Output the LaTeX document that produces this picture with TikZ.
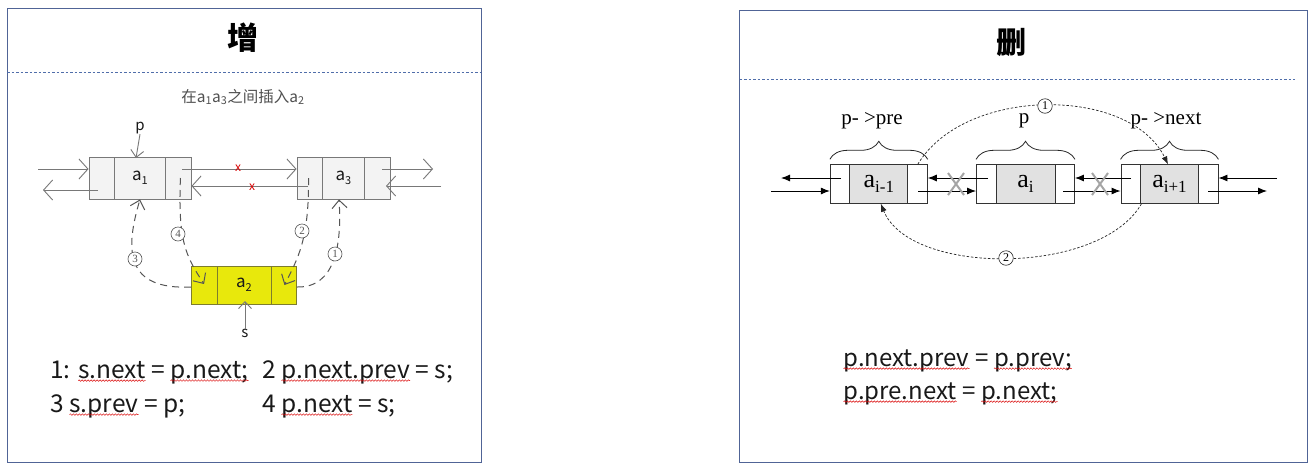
\documentclass[tikz,border=0pt]{standalone}
\usepackage{fontspec}
\setmainfont{Liberation Serif}
\newfontfamily\cjk{Noto Sans CJK SC}
\usetikzlibrary{arrows.meta,decorations.pathreplacing,decorations.pathmorphing,calc}
\definecolor{framec}{RGB}{80,100,150}
\definecolor{sepc}{RGB}{80,110,170}
\definecolor{lgray}{RGB}{120,120,120}
\definecolor{lfill}{RGB}{243,243,243}
\definecolor{yfill}{RGB}{232,232,12}
\definecolor{yline}{RGB}{125,125,45}
\definecolor{dgray}{RGB}{85,85,85}
\definecolor{rcell}{RGB}{225,225,225}
\definecolor{xgray}{RGB}{165,165,165}
\definecolor{txt}{RGB}{25,25,25}
\definecolor{subc}{RGB}{80,80,80}
\newcommand\rwave[1]{\tikz[baseline=(W.base)]{\node[inner sep=0,outer sep=0,anchor=base](W) at (0,0){#1};
  \draw[red!85!black,line width=0.45pt,decorate,decoration={snake,amplitude=0.8pt,segment length=3pt}]
  ([yshift=-2.6pt]W.base west) -- ([yshift=-2.6pt]W.base east);}}
\newcommand\lsub[1]{\raisebox{-0.22em}{\fontsize{11}{11}\selectfont #1}}
\newcommand\rsub[1]{\raisebox{-0.2em}{\fontsize{17}{17}\selectfont #1}}
\tikzset{
  frame/.style={draw=framec, line width=1pt},
  sepline/.style={draw=sepc, line width=0.8pt, dash pattern=on 2.5pt off 2pt},
  ldiv/.style={path picture={\draw[line width=0.9pt,draw=#1]
     ([xshift=25.5pt]path picture bounding box.north west) -- ([xshift=25.5pt]path picture bounding box.south west)
     ([xshift=-25.5pt]path picture bounding box.north east) -- ([xshift=-25.5pt]path picture bounding box.south east);}},
  lelem/.style={draw=lgray, line width=0.9pt, fill=lfill, minimum height=42, inner sep=0, ldiv=lgray,
     font=\cjk\fontsize{17}{17}\selectfont, text=txt},
  yelem/.style={draw=yline, line width=0.9pt, fill=yfill, minimum height=38, inner sep=0, ldiv=yline,
     font=\cjk\fontsize{17}{17}\selectfont, text=txt},
  oarr/.style={draw=lgray, line width=0.9pt, -{Straight Barb[length=9pt,width=20pt,line width=0.9pt]}},
  oarrs/.style={draw=lgray, line width=0.9pt, -{Straight Barb[length=7pt,width=13pt,line width=0.9pt]}},
  ldash/.style={draw=dgray, line width=1pt, dash pattern=on 7pt off 5pt, -{Straight Barb[length=8pt,width=15pt,line width=1pt]}},
  cnum/.style={circle, draw=dgray, line width=0.6pt, fill=white, inner sep=0, minimum size=14pt,
     font=\fontsize{11}{11}\selectfont, text=dgray},
  lbl/.style={inner sep=0, font=\cjk\fontsize{15}{15}\selectfont, text=txt},
  redx/.style={inner sep=0, font=\cjk\fontsize{12}{12}\selectfont, text=red!85!black},
  code/.style={anchor=base west, inner sep=0, text=txt},
  rdiv/.style={path picture={
     \fill[rcell] ([xshift=19.5pt]path picture bounding box.north west) rectangle ([xshift=-19.5pt]path picture bounding box.south east);
     \draw[line width=0.9pt,black!80]
     ([xshift=19.5pt]path picture bounding box.north west) -- ([xshift=19.5pt]path picture bounding box.south west)
     ([xshift=-19.5pt]path picture bounding box.north east) -- ([xshift=-19.5pt]path picture bounding box.south east);}},
  relem/.style={draw=black!80, line width=0.9pt, fill=white, minimum height=38.5, inner sep=0, rdiv,
     font=\fontsize{26}{26}\selectfont},
  farr/.style={draw=black, line width=0.9pt, -{Latex[length=9pt,width=7pt]}},
  rdash/.style={draw=black!85, line width=0.7pt, dash pattern=on 2.5pt off 1.8pt, -{Latex[length=8pt,width=6pt]}},
  brc/.style={draw=black!85, line width=0.8pt, decorate, decoration={brace, amplitude=18pt}},
  xmark/.style={draw=xgray, line width=2pt},
  rlbl/.style={inner sep=0, font=\fontsize{21}{21}\selectfont},
}
\begin{document}
\begin{tikzpicture}[x=1pt,y=-1pt]
\useasboundingbox (0,0) rectangle (1312,469);
\fill[white] (0,0) rectangle (1312,469);
% ---------- left panel ----------
\draw[frame] (7,8.5) rectangle (481,462.5);
\draw[sepline] (7,72) -- (481,72);
\node[font=\cjk\bfseries\fontsize{31}{31}\selectfont] (tadd) at (242.5,38) {增};
\node[font=\cjk\fontsize{15.5}{15.5}\selectfont, text=subc] (sub) at (243,97) {在a\textsubscript{1}a\textsubscript{3}之间插入a\textsubscript{2}};

\node[lelem, minimum width=102] (a1) at (140,178) {a\lsub{1}};
\node[lelem, minimum width=93] (a3) at (343.5,178) {a\lsub{3}};
\node[yelem, minimum width=105] (a2) at (244,285) {a\lsub{2}};

\coordinate (la) at (38,169);
\draw[oarr] (la) -- (la -| a1.west);
\coordinate (lb) at (98,190); \coordinate (lbe) at (43,190);
\draw[oarr] (lb) -- (lbe);
\coordinate (lc) at (182,169);
\draw[oarr] (lc) -- (lc -| a3.west);
\coordinate (ld) at (308,186);
\draw[oarr] (ld) -- (ld -| a1.east);
\coordinate (le) at (382,169); \coordinate (lee) at (433,169);
\draw[oarr] (le) -- (lee);
\coordinate (lf) at (441,186); \coordinate (lfe) at (386,186);
\draw[oarr] (lf) -- (lfe);

\node[redx] (x1) at (238,168) {x};
\node[redx] (x2) at (252,187) {x};

\node[lbl] (p) at (140,128) {p};
\coordinate (pt) at (136,158);
\draw[oarrs] (p.south) -- (pt);
\node[lbl] (s) at (245,333) {s};
\coordinate (st) at (245,301);
\draw[oarrs] (s.north) -- (st);

% dashed insertion steps
\draw[ldash] ([yshift=-2pt]a2.west) .. controls (125,290) and (125,250) .. (a1.south);
\draw[ldash] ([xshift=-11pt]a1.east) .. controls (178,240) and (185,255) .. ([xshift=13pt,yshift=1pt]a2.west);
\draw[ldash] ([xshift=12pt]a3.west) .. controls (309,240) and (298,258) .. ([xshift=-12.5pt]a2.east);
\draw[ldash] ([yshift=-2pt]a2.east) .. controls (335,288) and (342,245) .. ([xshift=-4.5pt]a3.south);
\node[cnum] (n3) at (135,259) {3};
\node[cnum] (n4) at (178,234) {4};
\node[cnum] (n2) at (302,231) {2};
\node[cnum] (n1) at (335,254) {1};

\node[code, font=\cjk\fontsize{24.5}{24.5}\selectfont] (t1) at (50,378) {1: \rwave{s.next} = \rwave{p.next;}};
\node[code, font=\cjk\fontsize{24.5}{24.5}\selectfont] (t2) at (262,378) {2 \rwave{p.next.prev} = s;};
\node[code, font=\cjk\fontsize{24.5}{24.5}\selectfont] (t3) at (50,412) {3 \rwave{s.prev} = p;};
\node[code, font=\cjk\fontsize{24.5}{24.5}\selectfont] (t4) at (262,412) {4 \rwave{p.next} = s;};

% ---------- right panel ----------
\draw[frame] (739.5,10.5) rectangle (1307,462.5);
\draw[sepline] (739.5,79) -- (1295,79);
\node[font=\cjk\bfseries\fontsize{30}{30}\selectfont] (tdel) at (1011,43) {删};

\node[relem, minimum width=97] (b1) at (878.8,184) {a\rsub{i-1}};
\node[relem, minimum width=98] (b2) at (1025.5,184) {a\rsub{i}};
\node[relem, minimum width=97] (b3) at (1169.5,184) {a\rsub{i+1}};

\draw[brc] ([yshift=5pt]b1.north west) -- ([yshift=5pt]b1.north east);
\draw[brc] ([yshift=5pt]b2.north west) -- ([yshift=5pt]b2.north east);
\draw[brc] ([yshift=5pt]b3.north west) -- ([yshift=5pt]b3.north east);
\node[rlbl] (lpre) at (872,121) {p- >pre};
\node[rlbl] (lp) at (1024,121) {p};
\node[rlbl] (lnext) at (1166,121) {p- >next};

\coordinate (ra) at (841,178); \coordinate (rae) at (781,178);
\draw[farr] (ra) -- (rae);
\coordinate (rb) at (771,191);
\draw[farr] (rb) -- (rb -| b1.west);
\coordinate (rc) at (988,178);
\draw[farr] (rc) -- (rc -| b1.east);
\coordinate (rd) at (918,191);
\draw[farr] (rd) -- (rd -| b2.west);
\coordinate (re) at (1131,178);
\draw[farr] (re) -- (re -| b2.east);
\coordinate (rf) at (1063,191);
\draw[farr] (rf) -- (rf -| b3.west);
\coordinate (rg) at (1277,178);
\draw[farr] (rg) -- (rg -| b3.east);
\coordinate (rh) at (1208,191); \coordinate (rhe) at (1267,191);
\draw[farr] (rh) -- (rhe);

\draw[xmark] (948,173) -- (964,195) (964,173) -- (948,195);
\draw[xmark] (1092,173) -- (1108,195) (1108,173) -- (1092,195);

\draw[rdash] ([xshift=-10pt]b1.north east) .. controls (965,86) and (1130,86) .. ([xshift=-1.5pt]b3.north);
\draw[rdash] ([xshift=-28pt]b3.south) .. controls (1100,276) and (910,276) .. ([xshift=2pt]b1.south);
\node[cnum, draw=black!85, text=black, minimum size=14.5pt, font=\fontsize{12}{12}\selectfont] (m1) at (1045,106) {1};
\node[cnum, draw=black!85, text=black, minimum size=14.5pt, font=\fontsize{12}{12}\selectfont] (m2) at (1006,258) {2};

\node[code, font=\cjk\fontsize{24}{24}\selectfont] (r1) at (843,366) {\rwave{p.next.prev} = \rwave{p.prev;}};
\node[code, font=\cjk\fontsize{24}{24}\selectfont] (r2) at (843,399) {\rwave{p.pre.next} = \rwave{p.next;}};
\end{tikzpicture}
\end{document}
